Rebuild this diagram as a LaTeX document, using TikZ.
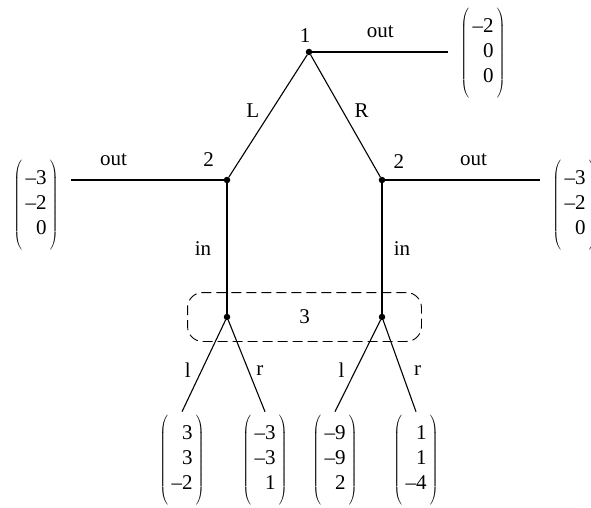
\documentclass[tikz,border=0pt]{standalone}
\usepackage{fontspec}
\setmainfont{Liberation Serif}
\usetikzlibrary{positioning, fit}
\tikzset{
    decision/.style={circle, fill, minimum size=6.5pt, inner sep=0pt},
    payoff/.style={inner xsep=12pt, inner ysep=3pt},
    move/.style={line width=1.1pt},
    infoset/.style={draw, line width=0.9pt, dash pattern=on 10pt off 5pt,
                    rounded corners=15pt, inner xsep=36pt, inner ysep=21pt},
    upper/.style={midway, above, yshift=10pt},
}
\newcommand{\payvec}[3]{$\left(\rule[-40pt]{0pt}{86pt}\,\begin{tabular}{@{}r@{}}#1\\#2\\#3\end{tabular}\,\right)$}

\begin{document}
\begin{tikzpicture}[x=1pt, y=-1pt, font=\fontsize{21}{25}\selectfont]
    \useasboundingbox (0,0) rectangle (591,508);
    % decision nodes
    \node[decision, label={[label distance=3pt, xshift=-4pt]above:1}] (p1) at (309,52) {};
    \node[decision, on grid, below left=128pt and 82pt of p1,
          label={[label distance=10pt]above left:2}] (p2l) {};
    \node[decision, on grid, below right=128pt and 73pt of p1,
          label={[label distance=8pt]above right:2}] (p2r) {};
    \node[decision, on grid, below=137pt of p2l] (p3l) {};
    \node[decision, on grid, below=137pt of p2r] (p3r) {};
    \node[infoset, fit=(p3l)(p3r), label=center:3] (info) {};
    % payoffs
    \node[payoff] (vtop) at (483,53) {\payvec{–2}{0}{0}};
    \node[payoff] (vleft) at (36,205) {\payvec{–3}{–2}{0}};
    \node[payoff] (vright) at (575,205) {\payvec{–3}{–2}{0}};
    \node[payoff, on grid, below left=143pt and 45pt of p3l] (ll) {\payvec{3}{3}{–2}};
    \node[payoff, on grid, below right=143pt and 38pt of p3l] (lr) {\payvec{–3}{–3}{1}};
    \node[payoff, on grid, below left=143pt and 47pt of p3r] (rl) {\payvec{–9}{–9}{2}};
    \node[payoff, on grid, below right=143pt and 34pt of p3r] (rr) {\payvec{1}{1}{–4}};
    % moves
    \draw[move] (p1) -- node[pos=0.46, left, xshift=-8pt] {L} (p2l);
    \draw[move] (p1) -- node[pos=0.46, right, xshift=8pt] {R} (p2r);
    \draw[move] (p1) -- node[upper] {out} (p1 -| vtop.west);
    \draw[move] (p2l) -- node[upper, pos=0.72] {out} (p2l -| vleft.east);
    \draw[move] (p2r) -- node[upper, pos=0.57] {out} (p2r -| vright.west);
    \draw[move] (p2l) -- node[midway, left, xshift=-12pt] {in} (p3l);
    \draw[move] (p2r) -- node[midway, right, xshift=8pt] {in} (p3r);
    \draw[move] (p3l) -- node[pos=0.55, left, xshift=-7pt] {l} (ll.north);
    \draw[move] (p3l) -- node[pos=0.55, right, xshift=4pt] {r} (lr.north);
    \draw[move] (p3r) -- node[pos=0.55, left, xshift=-7pt] {l} (rl.north);
    \draw[move] (p3r) -- node[pos=0.55, right, xshift=9pt] {r} (rr.north);
\end{tikzpicture}
\end{document}
